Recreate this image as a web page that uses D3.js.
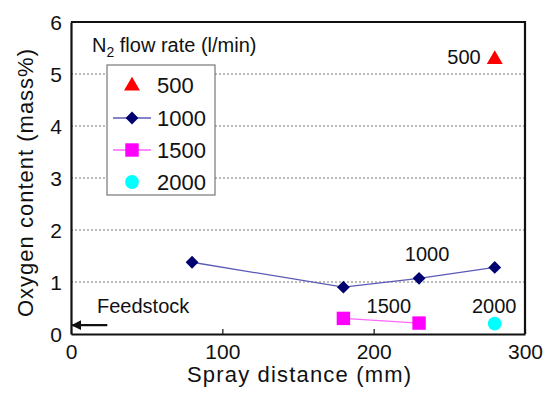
<!DOCTYPE html>
<html>
<head>
<meta charset="utf-8">
<script src="https://cdn.jsdelivr.net/npm/d3@7/dist/d3.min.js"></script>
<style>
  html, body { margin: 0; padding: 0; background: #fff; }
  svg { display: block; }
  text { font-family: "Liberation Sans", Arial, sans-serif; fill: #111; }
</style>
</head>
<body>
<svg id="chart" width="548" height="402"></svg>
<script>
// Oxygen content of sprayed deposits vs. spray distance, per N2 flow rate
const flowRates = ["500", "1000", "1500", "2000"];
const dist500 = [280];
const oxy500 = [5.3];
const dist1000 = [80, 180, 230, 280];
const oxy1000 = [1.38, 0.9, 1.07, 1.28];
const dist1500 = [180, 230];
const oxy1500 = [0.3, 0.21];
const dist2000 = [280];
const oxy2000 = [0.2];
const feedstockOxy = 0.17;
const xTicks = [0, 100, 200, 300];
const yTicks = [0, 1, 2, 3, 4, 5, 6];

const svg = d3.select("#chart");
const plotL = 71, plotR = 525, plotT = 22, plotB = 334;

const x = d3.scaleLinear().domain([0, 300]).range([plotL, plotR]);
const y = d3.scaleLinear().domain([0, 6]).range([plotB, plotT]);

// dotted horizontal grid
svg.append("g")
  .selectAll("line")
  .data(yTicks.filter(d => d > 0 && d < 6))
  .join("line")
  .attr("x1", plotL).attr("x2", plotR)
  .attr("y1", d => y(d)).attr("y2", d => y(d))
  .attr("stroke", "#777").attr("stroke-width", 1.2)
  .attr("stroke-dasharray", "2,2");

// axes
const fmt = d3.format("d");
const xAxis = svg.append("g")
  .attr("transform", `translate(0,${plotB})`)
  .call(d3.axisBottom(x).tickValues(xTicks).tickFormat(fmt)
    .tickSizeInner(-5).tickSizeOuter(0).tickPadding(9));
const yAxis = svg.append("g")
  .attr("transform", `translate(${plotL},0)`)
  .call(d3.axisLeft(y).tickValues(yTicks).tickFormat(fmt)
    .tickSizeInner(0).tickSizeOuter(0).tickPadding(9));

[xAxis, yAxis].forEach(g => {
  g.select(".domain").attr("stroke", "#111").attr("stroke-width", 2.2);
  g.selectAll(".tick line").attr("stroke", "#111").attr("stroke-width", 1.2);
  g.selectAll(".tick text")
    .style("font-family", "'Liberation Sans', Arial, sans-serif")
    .style("font-size", "21px").attr("fill", "#111");
});
xAxis.selectAll(".tick text").attr("dy", "0.78em");
yAxis.selectAll(".tick text").attr("dy", "0.36em");

// top and right frame
svg.append("path")
  .attr("d", `M${plotL},${plotT}H${plotR}V${plotB}`)
  .attr("fill", "none").attr("stroke", "#111").attr("stroke-width", 2.2);

// axis titles
svg.append("text")
  .attr("x", (plotL + plotR) / 2 + 1).attr("y", 382)
  .attr("text-anchor", "middle")
  .attr("textLength", 224).attr("lengthAdjust", "spacing")
  .style("font-size", "22px")
  .text("Spray distance (mm)");

svg.append("text")
  .attr("transform", "translate(33,183) rotate(-90)")
  .attr("text-anchor", "middle")
  .attr("textLength", 268).attr("lengthAdjust", "spacing")
  .style("font-size", "22px")
  .text("Oxygen content (mass%)");

// series
const lineGen = d3.line().x(d => x(d[0])).y(d => y(d[1]));
const pts1000 = d3.zip(dist1000, oxy1000);
const pts1500 = d3.zip(dist1500, oxy1500);

svg.append("path").datum(pts1000).attr("d", lineGen)
  .attr("fill", "none").attr("stroke", "#5a5ab8").attr("stroke-width", 1.3);
svg.append("path").datum(pts1500).attr("d", lineGen)
  .attr("fill", "none").attr("stroke", "#ff66ff").attr("stroke-width", 1.3);

const sym = {
  tri: d3.symbol().type(d3.symbolTriangle).size(110),
  dia: d3.symbol().type(d3.symbolSquare).size(82),
  sq: d3.symbol().type(d3.symbolSquare).size(180),
  circ: d3.symbol().type(d3.symbolCircle).size(150)
};

svg.append("g").selectAll("path").data(d3.zip(dist500, oxy500)).join("path")
  .attr("d", sym.tri)
  .attr("transform", d => `translate(${x(d[0])},${y(d[1]) + 1})`)
  .attr("fill", "#ff0000");
svg.append("g").selectAll("path").data(pts1000).join("path")
  .attr("d", sym.dia)
  .attr("transform", d => `translate(${x(d[0])},${y(d[1])}) rotate(45)`)
  .attr("fill", "#000070");
svg.append("g").selectAll("path").data(pts1500).join("path")
  .attr("d", sym.sq)
  .attr("transform", d => `translate(${x(d[0])},${y(d[1])})`)
  .attr("fill", "#ff00ff");
svg.append("g").selectAll("path").data(d3.zip(dist2000, oxy2000)).join("path")
  .attr("d", sym.circ)
  .attr("transform", d => `translate(${x(d[0])},${y(d[1])})`)
  .attr("fill", "#00ffff");

// series labels next to the data
const lab = (tx, ty, s, anchor) => svg.append("text")
  .attr("x", tx).attr("y", ty).attr("text-anchor", anchor || "middle")
  .style("font-size", "20px").text(s);
lab(x(dist500[0]) - 14, y(oxy500[0]) + 6, flowRates[0], "end");
lab(x(dist1000[2]) + 8, y(oxy1000[2]) - 17, flowRates[1]);
lab(x(210), y(oxy1500[0]) - 5, flowRates[2]);
lab(x(dist2000[0]) - 0.5, y(oxy2000[0]) - 11, flowRates[3]);

// feedstock marker
svg.append("defs").append("marker")
  .attr("id", "arrow").attr("viewBox", "0 0 10 10")
  .attr("refX", 9).attr("refY", 5)
  .attr("markerWidth", 4.2).attr("markerHeight", 4.5)
  .attr("orient", "auto")
  .append("path").attr("d", "M0,0L10,5L0,10Z").attr("fill", "#111");
svg.append("line")
  .attr("x1", x(24)).attr("x2", x(0.8))
  .attr("y1", y(feedstockOxy)).attr("y2", y(feedstockOxy))
  .attr("stroke", "#111").attr("stroke-width", 2.4)
  .attr("marker-end", "url(#arrow)");
svg.append("text").attr("x", 97).attr("y", 313)
  .style("font-size", "20px").text("Feedstock");

// legend title
const ttl = svg.append("text").attr("x", 92).attr("y", 52).style("font-size", "20px");
ttl.append("tspan").text("N");
ttl.append("tspan").attr("dy", 5).style("font-size", "14px").text("2");
ttl.append("tspan").attr("dy", -5).text(" flow rate (l/min)");

// legend
const lg = svg.append("g");
lg.append("rect").attr("x", 107).attr("y", 65).attr("width", 108).attr("height", 130)
  .attr("fill", "#fff").attr("stroke", "#777").attr("stroke-width", 1.2);
const rowY = [85, 118, 150, 182];
const mx = 132;
lg.append("line").attr("x1", 113).attr("x2", 151).attr("y1", rowY[1]).attr("y2", rowY[1])
  .attr("stroke", "#5a5ab8").attr("stroke-width", 1.3);
lg.append("line").attr("x1", 113).attr("x2", 151).attr("y1", rowY[2]).attr("y2", rowY[2])
  .attr("stroke", "#ff66ff").attr("stroke-width", 1.3);
lg.append("path").attr("d", sym.tri).attr("transform", `translate(${mx},${rowY[0] + 1})`).attr("fill", "#ff0000");
lg.append("path").attr("d", sym.dia).attr("transform", `translate(${mx},${rowY[1]}) rotate(45)`).attr("fill", "#000070");
lg.append("path").attr("d", sym.sq).attr("transform", `translate(${mx},${rowY[2]})`).attr("fill", "#ff00ff");
lg.append("path").attr("d", sym.circ).attr("transform", `translate(${mx},${rowY[3]})`).attr("fill", "#00ffff");
lg.selectAll("text.lbl").data(flowRates).join("text")
  .attr("class", "lbl")
  .attr("x", 157).attr("y", (d, i) => rowY[i] + 8)
  .style("font-size", "22px").text(d => d);
</script>
</body>
</html>
